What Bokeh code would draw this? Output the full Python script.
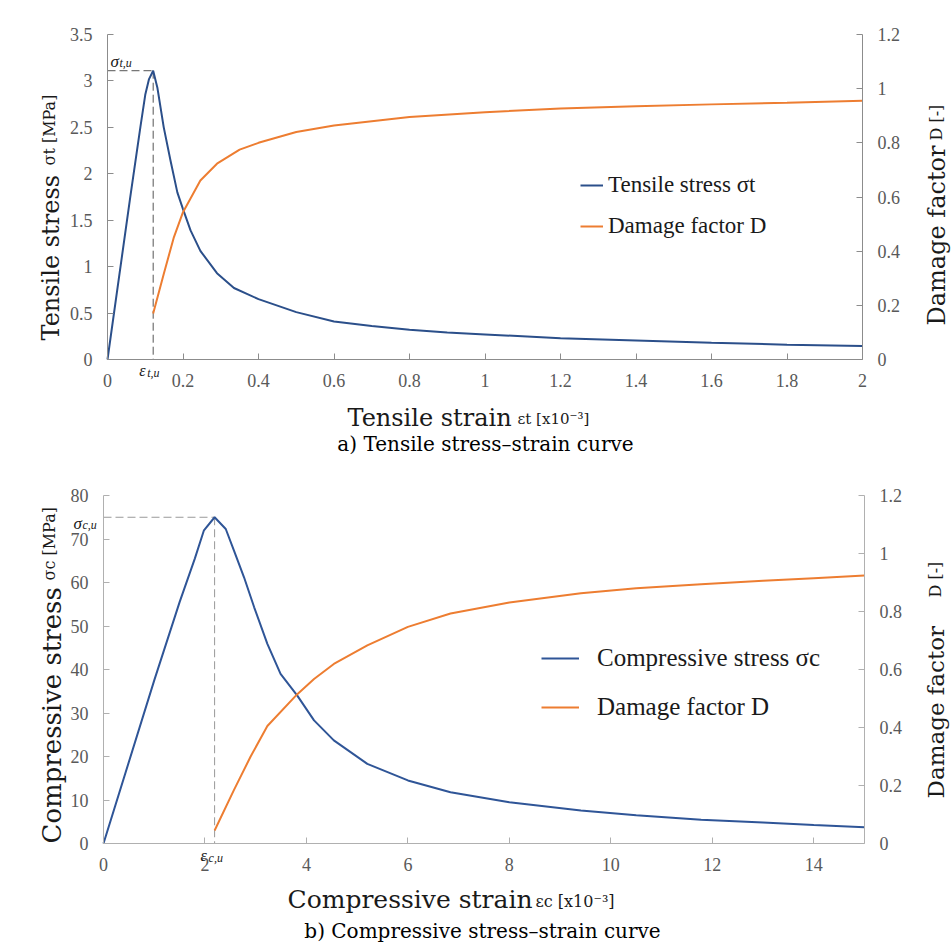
import math
from bokeh.plotting import figure
from bokeh.models import Range1d, LinearAxis, FixedTicker, Label, Legend, LegendItem
from bokeh.layouts import column
from bokeh.embed import file_html
from bokeh.resources import INLINE

# ---------------- data (strain in 1e-3) ----------------
t_strain = [0, 0.03, 0.06, 0.087, 0.1, 0.11, 0.121, 0.132, 0.149, 0.167, 0.185, 0.2, 0.22,
            0.246, 0.29, 0.335, 0.4, 0.5, 0.6, 0.7, 0.8, 0.9, 1.0, 1.2, 1.4, 1.6, 1.8, 2.0]
t_stress = [0, 0.87, 1.74, 2.5, 2.85, 3.02, 3.11, 2.93, 2.5, 2.14, 1.8, 1.62, 1.39,
            1.17, 0.93, 0.77, 0.65, 0.51, 0.41, 0.36, 0.32, 0.29, 0.27, 0.23, 0.205, 0.18, 0.16, 0.145]
t_d_strain = [0.121, 0.149, 0.176, 0.2, 0.246, 0.29, 0.35, 0.4, 0.5, 0.6, 0.8, 1.0, 1.2, 1.4, 1.6, 1.8, 2.0]
t_damage = [0.17, 0.316, 0.452, 0.544, 0.661, 0.723, 0.775, 0.80, 0.84, 0.864, 0.895, 0.913,
            0.927, 0.935, 0.942, 0.948, 0.955]

c_strain = [0, 1.0, 1.5, 1.8, 1.98, 2.19, 2.41, 2.57, 2.77, 2.97, 3.23, 3.49, 3.82, 4.15, 4.54,
            5.2, 6.0, 6.84, 8.0, 9.41, 10.5, 11.78, 13.0, 14.0, 15.0]
c_stress = [0, 37.5, 55.5, 65.5, 72.0, 75.0, 72.3, 67.4, 61.2, 54.3, 45.9, 39.0, 34.0, 28.3, 23.7,
            18.3, 14.5, 11.8, 9.5, 7.6, 6.5, 5.45, 4.8, 4.25, 3.75]
c_d_strain = [2.19, 2.57, 2.90, 3.23, 3.82, 4.15, 4.54, 5.2, 6.0, 6.84, 8.0, 9.41, 10.5, 11.78, 13.0, 14.0, 15.0]
c_damage = [0.045, 0.184, 0.30, 0.405, 0.515, 0.567, 0.619, 0.683, 0.747, 0.793, 0.831, 0.863,
            0.88, 0.894, 0.906, 0.915, 0.924]

top_x_ticks = [0, 0.2, 0.4, 0.6, 0.8, 1.0, 1.2, 1.4, 1.6, 1.8, 2.0]
top_x_labels = ["0", "0.2", "0.4", "0.6", "0.8", "1", "1.2", "1.4", "1.6", "1.8", "2"]
top_y_ticks = [0, 0.5, 1.0, 1.5, 2.0, 2.5, 3.0, 3.5]
top_y_labels = ["0", "0.5", "1", "1.5", "2", "2.5", "3", "3.5"]
d_ticks = [0, 0.2, 0.4, 0.6, 0.8, 1.0, 1.2]
d_labels = ["0", "0.2", "0.4", "0.6", "0.8", "1", "1.2"]
bot_x_ticks = [0, 2, 4, 6, 8, 10, 12, 14]
bot_x_labels = ["0", "2", "4", "6", "8", "10", "12", "14"]
bot_y_ticks = [0, 10, 20, 30, 40, 50, 60, 70, 80]
bot_y_labels = ["0", "10", "20", "30", "40", "50", "60", "70", "80"]

BLUE = "#2f5597"
ORANGE = "#ed7d31"
SERIF = "DejaVu Serif"
TIMES = "Liberation Serif"


def style_axis(ax, color, ticks, labels, standoff):
    ax.ticker = FixedTicker(ticks=ticks)
    ax.major_label_overrides = dict(zip(ticks, labels))
    ax.axis_line_color = color
    ax.major_tick_line_color = color
    ax.minor_tick_line_color = None
    ax.major_tick_in = 6
    ax.major_tick_out = 0
    ax.major_label_text_font = TIMES
    ax.major_label_text_font_size = "18px"
    ax.major_label_text_color = "#595959"
    ax.major_label_standoff = standoff


def lab(p, text, x, y, size, font=SERIF, angle=0.0, align="left", style="normal",
        ax=0, ay=0, color="#1a1a1a"):
    # anchored at data point (ax, ay); (x, y) are pixel offsets from it (y up)
    p.add_layout(Label(x=ax, y=ay, x_units="data", y_units="data", x_offset=x, y_offset=y,
                       text=text, text_font=font, text_font_size=f"{size}px",
                       text_font_style=style, text_color=color, angle=angle,
                       text_align=align, text_baseline="alphabetic"))


def make(width, height, box, xmax, ymax, axcolor, xt, xl, yt, yl):
    # box = plot-area edges in canvas pixels (left, right, top, bottom)
    left, right, top, bottom = box
    kx = xmax / (right - left)
    ky = ymax / (bottom - top)
    kd = 1.2 / (bottom - top)
    xr = Range1d(-left * kx, xmax + (width - right) * kx)
    yr = Range1d(-(height - bottom) * ky, ymax + top * ky)
    dr = Range1d(-(height - bottom) * kd, 1.2 + top * kd)
    p = figure(width=width, height=height, x_range=xr, y_range=yr,
               output_backend="svg", toolbar_location=None,
               x_axis_location=None, y_axis_location=None,
               min_border=0, min_border_left=0, min_border_right=0,
               min_border_top=0, min_border_bottom=0)
    p.title.visible = False
    p.extra_y_ranges = {"d": dr}
    xa = LinearAxis(fixed_location=0, bounds=(0, xmax))
    ya = LinearAxis(fixed_location=0, bounds=(0, ymax))
    da = LinearAxis(y_range_name="d", fixed_location=xmax, bounds=(0, 1.2))
    p.add_layout(xa, "below")
    p.add_layout(ya, "left")
    p.add_layout(da, "right")
    p.grid.visible = False
    p.outline_line_color = None
    p.background_fill_color = "white"
    p.border_fill_color = "white"
    style_axis(xa, axcolor, xt, xl, 14)
    style_axis(ya, axcolor, yt, yl, 15)
    style_axis(da, axcolor, d_ticks, d_labels, 15)
    return p


# ---------------- top: tensile ----------------
p1 = make(951, 470, (107, 862, 34, 359), 2, 3.5, "#8c8c8c",
          top_x_ticks, top_x_labels, top_y_ticks, top_y_labels)
ti = t_stress.index(max(t_stress))
tpx, tpy = t_strain[ti], t_stress[ti]
p1.line([0, tpx], [tpy, tpy], line_dash="8 4", line_color="#555555", line_width=1)
p1.line([tpx, tpx], [tpy, 0], line_dash="8 4", line_color="#555555", line_width=1)
r1 = p1.line(t_strain, t_stress, line_color="#2b4f8a", line_width=2)
r2 = p1.line(t_d_strain, t_damage, line_color=ORANGE, line_width=2, y_range_name="d")
leg1 = Legend(items=[LegendItem(label="Tensile stress σt", renderers=[r1]),
                     LegendItem(label="Damage factor D", renderers=[r2])],
              location=(580, 231), border_line_color=None, background_fill_alpha=0,
              padding=0, margin=0, spacing=15, glyph_width=23, glyph_height=24, label_height=24,
              label_standoff=5, label_text_font=TIMES, label_text_font_size="23px",
              label_text_color="#1a1a1a")
p1.add_layout(leg1)

lab(p1, "Tensile stress", -57, 19, 24, angle=math.pi / 2)
lab(p1, "σt [MPa]", -58, 194, 16, angle=math.pi / 2)
lab(p1, "Damage factor", 829, 34, 24, angle=math.pi / 2)
lab(p1, "D [-]", 829, 219, 16, angle=math.pi / 2)
lab(p1, "Tensile strain", 240, -58, 24)
lab(p1, "εt [x10⁻³]", 410, -59, 15)
lab(p1, "a) Tensile stress–strain curve", 378, -84, 20, align="center", color="#000000")
lab(p1, "σ", 3, 9, 17, font=TIMES, style="italic", ay=tpy)
lab(p1, "t,u", 12, 8, 12, font=TIMES, style="italic", ay=tpy)
lab(p1, "ε", -14, -11, 16, font=TIMES, style="italic", ax=tpx)
lab(p1, "t,u", -6, -13, 12, font=TIMES, style="italic", ax=tpx)

# ---------------- bottom: compressive ----------------
p2 = make(951, 478, (103, 864, 25, 373), 15, 80, "#b0b0b0",
          bot_x_ticks, bot_x_labels, bot_y_ticks, bot_y_labels)
ci = c_stress.index(max(c_stress))
cpx, cpy = c_strain[ci], c_stress[ci]
p2.line([0, cpx], [cpy, cpy], line_dash="8 4", line_color="#999999", line_width=1)
p2.line([cpx, cpx], [cpy, 0], line_dash="8 4", line_color="#999999", line_width=1)
r3 = p2.line(c_strain, c_stress, line_color=BLUE, line_width=2)
r4 = p2.line(c_d_strain, c_damage, line_color=ORANGE, line_width=2, y_range_name="d")
leg2 = Legend(items=[LegendItem(label="Compressive stress σc", renderers=[r3]),
                     LegendItem(label="Damage factor D", renderers=[r4])],
              location=(541, 227), border_line_color=None, background_fill_alpha=0,
              padding=0, margin=0, spacing=21, glyph_width=38, glyph_height=28, label_height=28,
              label_standoff=18, label_text_font=TIMES, label_text_font_size="25px",
              label_text_color="#1a1a1a")
p2.add_layout(leg2)

lab(p2, "Compressive stress", -52, 0, 26, angle=math.pi / 2)
lab(p2, "σc [MPa]", -54, 263, 16, angle=math.pi / 2)
lab(p2, "Damage factor", 832, 45, 23, angle=math.pi / 2)
lab(p2, "D [-]", 832, 246, 16, angle=math.pi / 2)
lab(p2, "Compressive strain", 184, -56, 25)
lab(p2, "εc [x10⁻³]", 432, -58, 16)
lab(p2, "b) Compressive stress–strain curve", 379, -87, 20, align="center", color="#000000")
lab(p2, "σ", -30, -6, 17, font=TIMES, style="italic", ay=cpy)
lab(p2, "c,u", -21, -8, 12, font=TIMES, style="italic", ay=cpy)
lab(p2, "ε", -14, -12, 16, font=TIMES, style="italic", ax=cpx)
lab(p2, "c,u", -6, -14, 12, font=TIMES, style="italic", ax=cpx)

layout = column(p1, p2)
open("out.html", "w").write(file_html(layout, INLINE))
